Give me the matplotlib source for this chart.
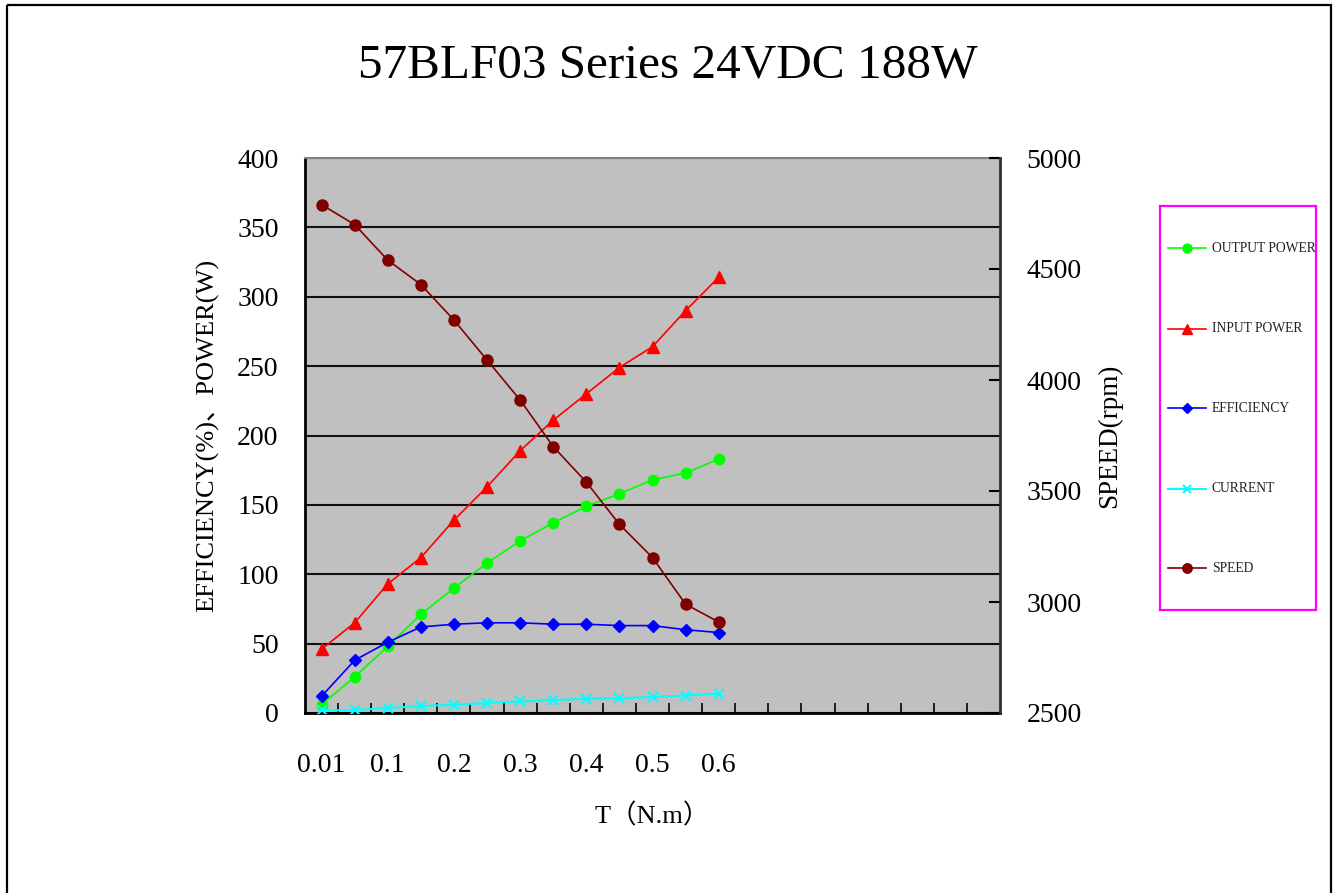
import numpy as np
import matplotlib
matplotlib.use("Agg")
import matplotlib.pyplot as plt
from matplotlib.patches import Rectangle
from matplotlib.lines import Line2D

plt.rcParams['font.family'] = ['Liberation Serif', 'Noto Sans CJK SC', 'DejaVu Sans']

# data
torque = [0.01, 0.05, 0.1, 0.15, 0.2, 0.25, 0.3, 0.35, 0.4, 0.45, 0.5, 0.55, 0.6]
output_power = [6, 26, 48, 71, 90, 108, 124, 137, 149, 158, 168, 173, 183]
input_power = [46, 65, 93, 112, 139, 163, 189, 211, 230, 249, 264, 290, 314]
efficiency = [12, 38, 51, 62, 64, 65, 65, 64, 64, 63, 63, 60, 58]
current = [1.9, 2.0, 3.6, 5.0, 6.0, 7.2, 8.3, 9.3, 10.4, 10.6, 11.6, 12.6, 14.0]
speed = [4790, 4700, 4540, 4430, 4270, 4090, 3910, 3700, 3540, 3350, 3200, 2990, 2910]
n_slots = 21  # category slots on the x axis (only the first 13 hold data)

W, H = 1336, 893
fig = plt.figure(figsize=(W / 100, H / 100), dpi=100)
ax = fig.add_axes([305 / W, 1 - 713 / H, 695 / W, 555 / H])
ax2 = ax.twinx()

x = np.arange(len(torque))
ax.set_facecolor('#C0C0C0')
ax.set_xlim(-0.5, n_slots - 0.5)
ax.set_ylim(0, 400)
ax.set_yticks(np.arange(0, 401, 50))
ax.yaxis.grid(True, color='#111111', lw=1.5)
ax.set_axisbelow(True)

ax.plot(x, output_power, color='#00FF00', lw=1.2, marker='o', ms=7.5, label='OUTPUT POWER', zorder=3)
ax.plot(x, input_power, color='#FF0000', lw=1.2, marker='^', ms=8.5, label='INPUT POWER', zorder=3)
ax.plot(x, efficiency, color='#0000FF', lw=1.2, marker='D', ms=6.5, label='EFFICIENCY', zorder=3)
ax.plot(x, current, color='#00FFFF', lw=1.5, marker='x', ms=7, mew=1.5, label='CURRENT', zorder=3)

ax2.set_ylim(2500, 5000)
ax2.set_yticks(np.arange(2500, 5001, 500))
ax2.plot(x, speed, color='#800000', lw=1.2, marker='o', ms=8, label='SPEED')

# x ticks: boundaries get inward marks, labels on every second category
ax.set_xticks(np.arange(0.5, n_slots - 0.5, 1), minor=True)
ax.set_xticks(x[::2])
ax.set_xticklabels(['%g' % t for t in torque[::2]])
ax.tick_params(axis='x', which='major', length=0, pad=29, labelsize=20)
ax.tick_params(axis='x', which='minor', direction='in', length=7, width=1.2)
ax.tick_params(axis='y', direction='in', length=0, pad=19, labelsize=20)
ax2.tick_params(axis='y', direction='in', length=8, width=1.5, pad=19, labelsize=20)

for sp in ['left', 'bottom']:
    ax.spines[sp].set_linewidth(2)
    ax.spines[sp].set_color('black')
ax.spines['top'].set_color('#808080')
ax.spines['top'].set_linewidth(1.5)
ax.spines['right'].set_visible(False)
for sp in ['left', 'bottom', 'top']:
    ax2.spines[sp].set_visible(False)
ax2.spines['right'].set_color('#303030')
ax2.spines['right'].set_linewidth(2)

ax.set_ylabel('EFFICIENCY(%)、POWER(W)', fontsize=19)
ax.yaxis.set_label_coords((219 - 305) / 695, 0.5)
ax2.set_ylabel('SPEED(rpm)', fontsize=19.5)
ax2.yaxis.set_label_coords((1097 - 305) / 695, 0.5)
ax.set_xlabel('T（N.m）', fontsize=19)
ax.xaxis.set_label_coords((652 - 305) / 695, (713 - 803) / 555)

# overlay in pixel coordinates for the title, frame and legend box
lay = fig.add_axes([0, 0, 1, 1], zorder=5)
lay.set_xlim(0, W)
lay.set_ylim(H, 0)
lay.axis('off')
lay.patch.set_alpha(0)
lay.add_patch(Rectangle((7, 5), 1324, 900, fill=False, ec='black', lw=1.6, clip_on=False))
lay.text(668, 66, '57BLF03 Series 24VDC 188W', fontsize=35.5, ha='center', va='center')

lay.add_patch(Rectangle((1160, 206), 156, 404, fill=False, ec='#FF00FF', lw=1.6))
handles = ax.get_lines() + ax2.get_lines()
rows = [248, 329, 408, 489, 568]
for h, yy in zip(handles, rows):
    lay.add_line(Line2D([1168, 1206], [yy, yy], color=h.get_color(), lw=h.get_linewidth()))
    lay.add_line(Line2D([1187], [yy], color=h.get_color(), marker=h.get_marker(),
                        ms=h.get_markersize() * 0.85, mew=h.get_markeredgewidth()))
    lay.text(1212, yy, h.get_label(), fontsize=9.8, va='center', ha='left', color='#222222')

fig.savefig('out.png', dpi=100)
